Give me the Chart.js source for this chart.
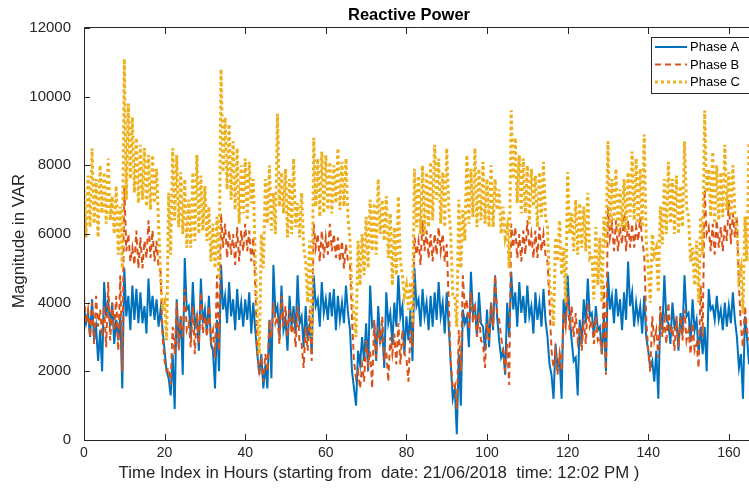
<!DOCTYPE html>
<html>
<head>
<meta charset="utf-8">
<script src="https://cdn.jsdelivr.net/npm/chart.js@4.4.1/dist/chart.umd.min.js"></script>
<style>
  html, body { margin: 0; padding: 0; background: #fff; }
  #wrap { width: 749px; height: 491px; }
</style>
</head>
<body>
<div id="wrap"><canvas id="reactiveChart" width="749" height="491"></canvas></div>
<script>
// half-hourly readings (VAR), one row = 10 hours
const phaseA = [
  3900, 3400, 3700, 3000, 4100, 2900, 3300, 2300, 3200, 2000, 4600, 3600, 4100, 3300, 4000, 2800, 3500, 2900, 3600, 1500,
  5000, 3600, 4200, 3200, 4500, 3500, 4400, 3400, 4300, 3400, 3900, 3100, 4700, 3600, 4200, 3500, 4100, 3300, 3800, 3200,
  2600, 2000, 1800, 1300, 2500, 900, 4100, 2800, 3600, 1900, 5300, 3800, 3900, 3000, 4600, 3300, 3600, 2600, 4700, 3400,
  3800, 3100, 4200, 2800, 2600, 1500, 3500, 2000, 5100, 3800, 4200, 3400, 4600, 3600, 4100, 3200, 4400, 3500, 4000, 3300,
  4100, 3500, 4300, 3100, 4000, 3200, 2500, 1900, 2500, 1500, 2200, 1500, 3500, 1800, 5100, 3700, 3900, 3000, 4500, 3200,
  3500, 2600, 4200, 3300, 3900, 3100, 4800, 3400, 3600, 2700, 3900, 2900, 3400, 2500, 4800, 3900, 4100, 3300, 4600, 3700,
  4100, 3500, 4300, 3600, 4400, 3200, 4200, 3500, 4000, 3400, 4500, 3700, 3200, 2000, 1500, 1000, 2600, 2200, 3000, 2300,
  3400, 2000, 4500, 3300, 3400, 2300, 3900, 2900, 3200, 2100, 4300, 3400, 3700, 2800, 4000, 3300, 4800, 3600, 3900, 2500,
  3600, 2900, 3800, 2300, 5000, 3900, 4100, 3300, 4400, 3600, 4000, 3200, 4200, 3300, 4300, 3500, 4600, 3600, 4000, 3100,
  4300, 3300, 2200, 1200, 1500, 170, 2500, 1000, 3800, 3400, 3600, 2700, 4900, 3700, 3900, 3000, 4300, 3400, 3300, 2600,
  3800, 2700, 4000, 3200, 4800, 3600, 2900, 2400, 2600, 1900, 4000, 3000, 4900, 3800, 4300, 3300, 4600, 3700, 4200, 3400,
  4500, 3600, 3900, 3100, 4300, 3500, 4000, 3300, 4400, 3500, 3000, 2200, 1900, 1200, 2800, 2100, 2400, 1200, 4100, 3400,
  4800, 3600, 2900, 2300, 2400, 1300, 3500, 2800, 4100, 3400, 4700, 3600, 3700, 3000, 3900, 3200, 3300, 2500, 3600, 2000,
  4900, 3800, 4200, 3400, 4400, 3600, 4100, 3200, 4300, 3500, 5200, 3900, 4300, 3300, 4000, 3500, 3900, 3100, 4200, 3000,
  2600, 2100, 2300, 1700, 2600, 1200, 3700, 3200, 4800, 3500, 3400, 2800, 4000, 3300, 3500, 2600, 3700, 3100, 4800, 3600,
  3700, 2900, 4100, 3200, 3500, 2500, 3300, 2500, 3300, 2000, 4400, 3800, 3900, 3500, 4200, 3500, 3800, 3200, 4000, 3300,
  3900, 3400, 4300, 3500, 3000, 2100, 2500, 1200, 3600, 3000, 2200
];
const phaseB = [
  4200, 3400, 3800, 3000, 4000, 2800, 4200, 3300, 3800, 3000, 3900, 2700, 4600, 2900, 4000, 3200, 4200, 2600, 4800, 2000,
  7400, 5500, 6000, 5200, 5600, 5100, 6100, 5000, 5900, 5000, 5800, 5300, 6400, 5300, 6100, 5200, 5800, 5000, 4900, 3000,
  2300, 2000, 2100, 1600, 3300, 2500, 4000, 2600, 3600, 3000, 4400, 3200, 3400, 2700, 3900, 2500, 3700, 2800, 4300, 3100,
  3600, 3000, 3900, 2900, 3200, 2400, 4800, 2600, 6600, 5600, 6300, 5300, 6100, 5400, 6000, 5100, 6200, 5200, 6100, 5500,
  6300, 5500, 6100, 5200, 5900, 4500, 2600, 2000, 2300, 1700, 2500, 2000, 3500, 3000, 4000, 3400, 3600, 2800, 4200, 3300,
  3900, 3000, 3800, 3100, 3500, 2700, 3900, 2800, 2800, 2100, 3300, 2600, 3800, 2300, 6300, 5600, 6000, 5200, 6100, 5300,
  5900, 5400, 6300, 5500, 6000, 5300, 5900, 5200, 5800, 5000, 5700, 5200, 5100, 3500, 2300, 1800, 2000, 1500, 2200, 1700,
  2900, 2200, 2600, 1500, 3500, 2400, 3300, 2800, 3600, 2400, 2600, 1700, 3000, 2500, 3100, 2200, 3400, 2200, 3200, 2500,
  2400, 1700, 3200, 2700, 5900, 5400, 5800, 5100, 6400, 5500, 6100, 5300, 6000, 5200, 6000, 5400, 6200, 5500, 6000, 5200,
  5700, 4000, 2300, 1500, 1600, 900, 3200, 2000, 4800, 3800, 4100, 3200, 4300, 3400, 4000, 3000, 3700, 2900, 2800, 2100,
  3400, 2900, 4000, 3300, 4800, 3700, 3500, 3000, 2600, 2000, 2800, 1600, 6300, 5600, 6200, 5300, 6000, 5200, 6100, 5400,
  6400, 5600, 6000, 5300, 6100, 5300, 6200, 5500, 6000, 5400, 5200, 4000, 2600, 2100, 2600, 1900, 2500, 2000, 3700, 3300,
  4200, 3200, 3900, 3000, 3700, 2900, 3300, 2600, 3500, 2800, 4000, 3300, 3500, 2800, 3600, 2900, 3000, 2500, 4500, 1900,
  6800, 5900, 6300, 5500, 6400, 5500, 6200, 5700, 6600, 5500, 6400, 5600, 6300, 5600, 6200, 5800, 6500, 5800, 5400, 3500,
  2600, 2000, 3600, 2900, 3200, 2400, 3900, 3000, 3500, 2800, 4000, 3100, 3300, 2600, 3600, 2700, 3600, 2900, 3800, 2900,
  3200, 2500, 3400, 2600, 2800, 2100, 4500, 3000, 7300, 6000, 6200, 5500, 6300, 5400, 6400, 5600, 6200, 5500, 6300, 5800,
  7000, 5700, 6600, 5900, 6500, 4500, 3300, 2700, 3900, 3200, 2900
];
const phaseC = [
  7300, 5900, 7700, 6200, 8500, 6300, 7600, 5900, 8000, 6600, 7800, 6300, 8200, 6400, 7100, 6000, 7400, 5400, 6800, 5000,
  11100, 7000, 9800, 7600, 9400, 7200, 8800, 6900, 8600, 7000, 8500, 6800, 8300, 6700, 8300, 6900, 7900, 6300, 4800, 3800,
  4000, 2900, 7200, 5400, 8500, 6400, 8300, 6200, 7800, 6000, 7600, 5600, 7000, 5600, 7800, 5800, 8300, 6000, 7700, 6100,
  7400, 5800, 6800, 5200, 6300, 5000, 6500, 4700, 10800, 7800, 9400, 7300, 9200, 7000, 8700, 6700, 8500, 6300, 8000, 6600,
  8200, 6400, 8100, 6900, 7600, 5200, 3500, 2500, 6000, 5000, 7600, 6300, 8000, 6100, 7200, 6000, 9500, 6800, 7800, 6600,
  7900, 5900, 7600, 6000, 8200, 6200, 6900, 5900, 7200, 5600, 5200, 4000, 5800, 3000, 8800, 6800, 8200, 6500, 8400, 6600,
  8300, 6700, 8100, 6600, 8000, 6900, 8500, 6700, 8100, 6800, 8200, 6500, 5800, 4200, 3600, 3000, 5800, 4500, 6000, 4800,
  6500, 5000, 7000, 5500, 6900, 5400, 7600, 6000, 7000, 5800, 7100, 5300, 6600, 4500, 6200, 4800, 7100, 5200, 4800, 4200,
  4500, 3800, 4600, 3400, 7900, 6200, 7700, 6000, 8000, 6000, 7800, 6200, 8100, 6400, 8600, 7000, 8200, 6300, 7800, 6200,
  8500, 6800, 6000, 4200, 4200, 3300, 7000, 5000, 6700, 5800, 8300, 6300, 7900, 6500, 8500, 6200, 7900, 6400, 8100, 6300,
  7600, 6200, 8000, 6200, 7600, 6700, 7300, 6000, 6800, 5900, 6200, 5000, 9600, 7600, 8800, 6900, 8300, 6600, 8200, 6600,
  8000, 6300, 7900, 6800, 7700, 6200, 7800, 6500, 8100, 6500, 6200, 4500, 4200, 3300, 5900, 5200, 6400, 4800, 5600, 4000,
  7800, 6000, 6600, 5500, 7000, 5400, 6900, 5600, 6800, 5500, 7200, 5300, 5400, 4100, 6200, 4500, 5900, 4000, 6500, 5600,
  8700, 6200, 7600, 6400, 7900, 6000, 7300, 6200, 7600, 6100, 7800, 6500, 8400, 6400, 8200, 6300, 7900, 6200, 8900, 5800,
  5000, 4000, 6000, 5400, 5600, 4300, 6800, 5700, 7600, 6000, 8100, 6300, 7600, 6000, 7700, 6000, 7400, 6200, 8700, 6800,
  6500, 5200, 5600, 4500, 5800, 4000, 6500, 5400, 9600, 7200, 7900, 6500, 8400, 6300, 8000, 6400, 7800, 6500, 8600, 6700,
  7800, 6500, 8000, 6600, 6200, 4700, 5000, 3700, 6500, 5200, 8700
];
const hours = phaseA.map((_, i) => i / 2);
const xTicks = [0, 20, 40, 60, 80, 100, 120, 140, 160];
const yTicks = [0, 2000, 4000, 6000, 8000, 10000, 12000];
const seriesNames = ['Phase A', 'Phase B', 'Phase C'];
const colors = ['#0072BD', '#D95319', '#EDB120'];
const dashes = [[], [6, 4], [3, 3]];
const widths = [2, 2, 3];

const axisColor = '#262626';
const FONT = '"Liberation Sans", Arial, Helvetica, sans-serif';

function toPoints(vals) {
  return vals.map((v, i) => ({ x: hours[i], y: v }));
}

// box, inner ticks, titles and legend, drawn the matlab way
const matlabFrame = {
  id: 'matlabFrame',
  afterDraw(chart) {
    const ctx = chart.ctx;
    const a = chart.chartArea;
    const xs = chart.scales.x, ys = chart.scales.y;
    ctx.save();
    ctx.strokeStyle = axisColor;
    ctx.lineWidth = 1;
    ctx.beginPath();
    ctx.moveTo(a.left + 0.5, a.bottom + 0.5);
    ctx.lineTo(a.left + 0.5, a.top - 0.5);
    ctx.lineTo(a.right + 5, a.top - 0.5);
    ctx.moveTo(a.left, a.bottom + 0.5);
    ctx.lineTo(a.right + 5, a.bottom + 0.5);
    xTicks.forEach(t => {
      const px = Math.round(xs.getPixelForValue(t)) + 0.5;
      ctx.moveTo(px, a.bottom); ctx.lineTo(px, a.bottom - 6);
      ctx.moveTo(px, a.top); ctx.lineTo(px, a.top + 6);
    });
    yTicks.forEach(t => {
      const py = Math.round(ys.getPixelForValue(t)) + 0.5;
      ctx.moveTo(a.left, py); ctx.lineTo(a.left + 6, py);
    });
    ctx.stroke();

    ctx.fillStyle = '#000';
    ctx.textAlign = 'center';
    ctx.textBaseline = 'middle';
    ctx.font = 'bold 16.5px ' + FONT;
    ctx.fillText('Reactive Power', 409, 15);

    ctx.fillStyle = axisColor;
    ctx.font = '16.8px ' + FONT;
    ctx.fillText('Time Index in Hours (starting from  date: 21/06/2018  time: 12:02 PM )', 379, 473);
    ctx.save();
    ctx.translate(19, 241);
    ctx.rotate(-Math.PI / 2);
    ctx.fillText('Magnitude in VAR', 0, 0);
    ctx.restore();

    // legend box
    const lx = 651, ly = 37, lw = 110, lh = 56;
    ctx.fillStyle = '#fff';
    ctx.fillRect(lx, ly, lw, lh);
    ctx.strokeStyle = axisColor;
    ctx.lineWidth = 1;
    ctx.strokeRect(lx + 0.5, ly + 0.5, lw, lh);
    const rows = [47, 64.5, 82];
    ctx.font = '13px ' + FONT;
    ctx.textAlign = 'left';
    seriesNames.forEach((n, i) => {
      ctx.strokeStyle = colors[i];
      ctx.lineWidth = widths[i];
      ctx.setLineDash(dashes[i]);
      ctx.beginPath();
      ctx.moveTo(655, rows[i]);
      ctx.lineTo(687, rows[i]);
      ctx.stroke();
      ctx.setLineDash([]);
      ctx.fillStyle = '#000';
      ctx.fillText(n, 690, rows[i] + 0.5);
    });
    ctx.restore();
  }
};

const datasets = seriesNames.map((n, i) => ({
  label: n,
  data: i === 0 ? toPoints(phaseA) : i === 1 ? toPoints(phaseB) : toPoints(phaseC),
  borderColor: colors[i],
  borderWidth: widths[i],
  borderDash: dashes[i],
  borderCapStyle: 'butt',
  pointRadius: 0,
  tension: 0,
  fill: false,
  order: 3 - i
}));

new Chart(document.getElementById('reactiveChart'), {
  type: 'line',
  data: { datasets: datasets },
  options: {
    responsive: false,
    animation: false,
    events: [],
    layout: { padding: { top: 28, right: 0, left: 0, bottom: 0 } },
    plugins: {
      legend: { display: false },
      title: { display: false },
      tooltip: { enabled: false }
    },
    scales: {
      x: {
        type: 'linear',
        min: 0,
        max: 165,
        grid: { display: false, drawTicks: false },
        border: { display: false },
        afterBuildTicks: s => { s.ticks = xTicks.map(v => ({ value: v })); },
        afterFit: s => { s.height = 51; },
        ticks: {
          font: { family: FONT, size: 14 },
          color: axisColor,
          padding: 5,
          maxRotation: 0,
          autoSkip: false,
          callback: v => String(v)
        }
      },
      y: {
        min: 0,
        max: 12000,
        grid: { display: false, drawTicks: false },
        border: { display: false },
        afterBuildTicks: s => { s.ticks = yTicks.map(v => ({ value: v })); },
        afterFit: s => { s.width = 84; },
        ticks: {
          font: { family: FONT, size: 15 },
          color: axisColor,
          padding: 13,
          callback: v => String(v)
        }
      }
    }
  },
  plugins: [matlabFrame]
});
</script>
</body>
</html>
